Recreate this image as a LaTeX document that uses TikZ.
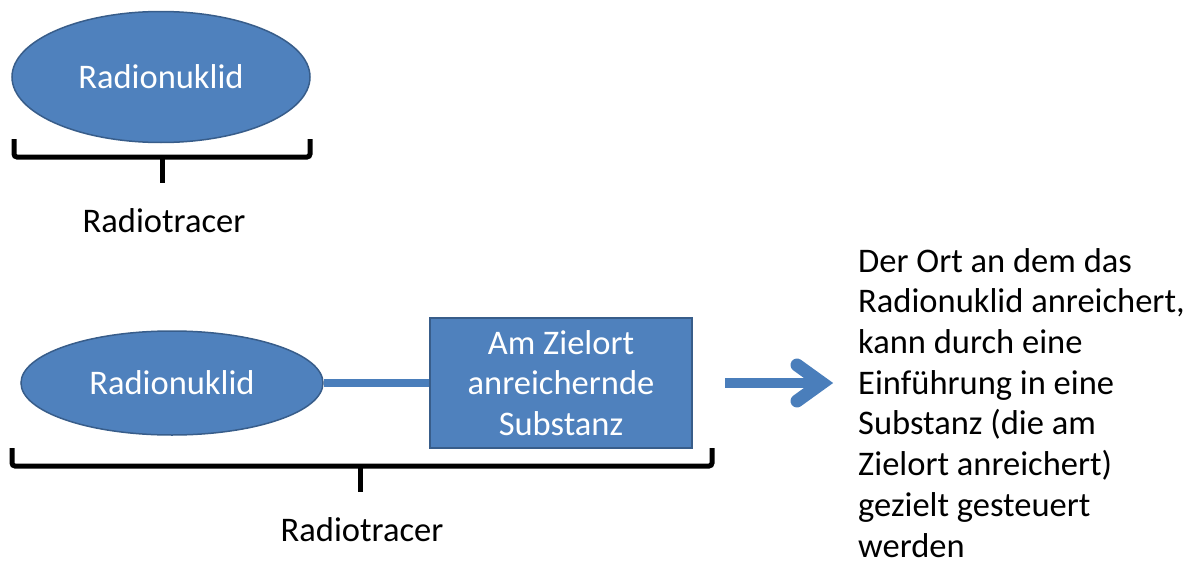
\documentclass[tikz,border=0pt]{standalone}
\usepackage{fontspec}
\setmainfont{Carlito}
\usetikzlibrary{shapes.geometric,calc}
\definecolor{bfill}{HTML}{4F81BD}
\definecolor{bdraw}{HTML}{385D8A}
\definecolor{bline}{HTML}{4A7EBB}
\begin{document}
\begin{tikzpicture}[x=1pt,y=-1pt,
  big/.style={font=\fontsize{34.5}{40.7}\selectfont},
  nuc/.style={ellipse,fill=bfill,draw=bdraw,line width=1.5pt,inner sep=0pt,text=white,big},
  subst/.style={rectangle,fill=bfill,draw=bdraw,line width=1.5pt,inner sep=0pt,text=white,align=center,big},
  brace/.style={draw=black,line width=5pt,rounded corners=3pt},
  lbl/.style={text=black,big,inner sep=0pt},
  link/.style={draw=bline,line width=8pt},
  bigarrow/.style={draw=bline,line width=10pt},
  arrowhead/.style={draw=bline,line width=13pt,line cap=round,line join=miter}]
\useasboundingbox (0,0) rectangle (1195,562);
% top group
\node[nuc,minimum width=298pt,minimum height=131pt] (e1) at (161,77) {Radionuklid};
\coordinate (b1l) at (14,139);
\coordinate (b1r) at (310,139);
\coordinate (b1m) at (162,157);
\coordinate (b1t) at (162,183);
\draw[brace] (b1l) -- (b1l|-b1m) -- (b1r|-b1m) -- (b1r);
\draw[brace] (b1m) -- (b1t);
\node[lbl] (t1) at (164,221) {Radiotracer};
% bottom group
\node[nuc,minimum width=302pt,minimum height=104pt] (e2) at (172,383) {Radionuklid};
\node[subst,minimum width=262pt,minimum height=130pt] (r) at (561,383) {Am Zielort\\anreichernde\\Substanz};
\draw[link] (e2) -- (r);
\coordinate (b2l) at (12,448);
\coordinate (b2r) at (712,448);
\coordinate (b2m) at (360,466);
\coordinate (b2t) at (360,492);
\draw[brace] (b2l) -- (b2l|-b2m) -- (b2r|-b2m) -- (b2r);
\draw[brace] (b2m) -- (b2t);
\node[lbl] (t2) at (362,530) {Radiotracer};
% arrow
\coordinate (a1) at (725,383);
\coordinate (a2) at (822,383);
\draw[bigarrow] (a1) -- (a2);
\draw[arrowhead] ($(a2)+(-25,-18)$) -- (a2) -- ($(a2)+(-25,18)$);
% explanation
\node[lbl,anchor=north west,align=left] (txt) at (858,248) {Der Ort an dem das\\Radionuklid anreichert,\\kann durch eine\\Einführung in eine\\Substanz (die am\\Zielort anreichert)\\gezielt gesteuert\\werden};
\end{tikzpicture}
\end{document}
